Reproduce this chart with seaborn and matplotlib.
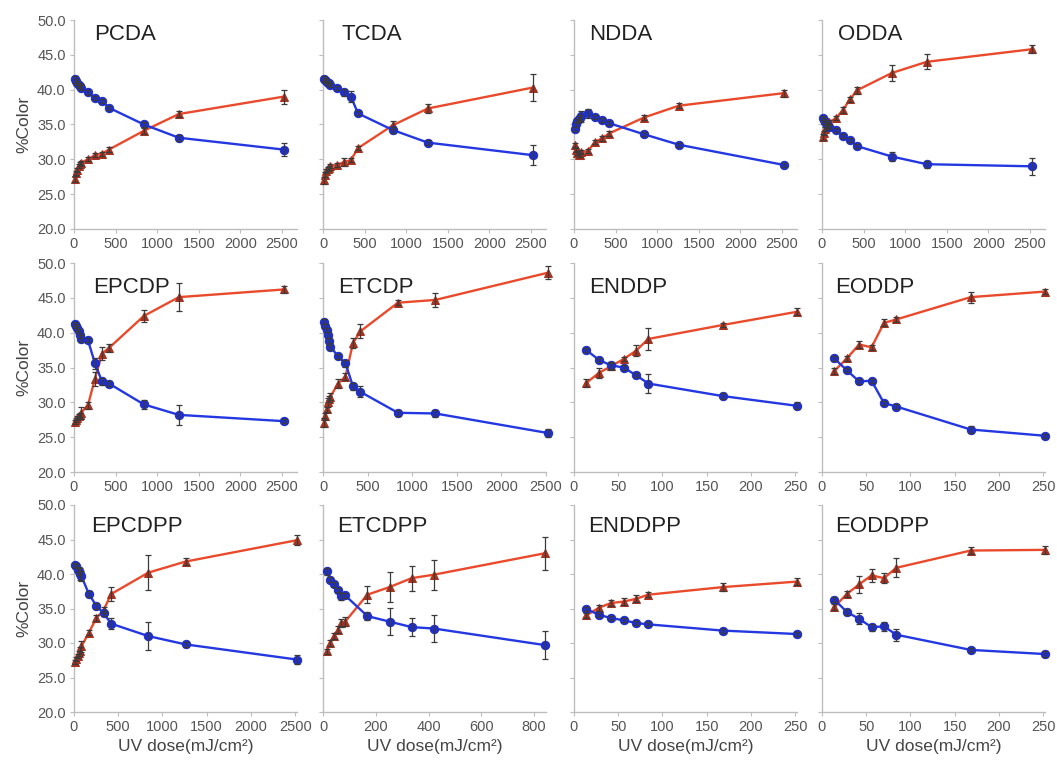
import matplotlib
matplotlib.use("Agg")
import matplotlib.pyplot as plt
import seaborn as sns

# ---------------- data ----------------
DOSE_LONG = [14, 28, 42, 56, 70, 84, 168, 252, 336, 420, 840, 1260, 2520]
DOSE_MID = [14, 28, 42, 56, 70, 84, 168, 252, 336, 420, 840]
DOSE_SHORT = [14, 28, 42, 56, 70, 84, 168, 252]

names = ["PCDA", "TCDA", "NDDA", "ODDA",
         "EPCDP", "ETCDP", "ENDDP", "EODDP",
         "EPCDPP", "ETCDPP", "ENDDPP", "EODDPP"]

pcda_red = [27.2, 28.0, 28.5, 29.0, 29.3, 29.5, 30.0, 30.6, 30.8, 31.4, 34.1, 36.5, 39.0]
pcda_red_err = [0.4, 0.3, 0.3, 0.3, 0.3, 0.3, 0.3, 0.3, 0.3, 0.3, 0.4, 0.4, 1.0]
pcda_blue = [41.5, 41.2, 40.9, 40.7, 40.5, 40.3, 39.6, 38.8, 38.4, 37.4, 35.0, 33.1, 31.4]
pcda_blue_err = [0.5, 0.3, 0.3, 0.3, 0.3, 0.3, 0.3, 0.3, 0.3, 0.3, 0.3, 0.4, 0.9]

tcda_red = [27.0, 27.8, 28.3, 28.6, 28.8, 29.0, 29.2, 29.6, 29.9, 31.6, 34.9, 37.3, 40.3]
tcda_red_err = [0.5, 0.4, 0.3, 0.3, 0.3, 0.3, 0.3, 0.6, 0.3, 0.3, 0.6, 0.6, 1.9]
tcda_blue = [41.6, 41.4, 41.2, 41.0, 40.9, 40.7, 40.2, 39.6, 39.0, 36.6, 34.2, 32.4, 30.6]
tcda_blue_err = [0.4, 0.3, 0.3, 0.3, 0.3, 0.3, 0.3, 0.5, 0.8, 0.3, 0.4, 0.4, 1.4]

ndda_red = [32.0, 31.3, 30.9, 30.6, 30.6, 31.0, 31.2, 32.5, 33.0, 33.7, 36.0, 37.7, 39.5]
ndda_red_err = [0.3, 0.3, 0.3, 0.3, 0.3, 0.3, 0.3, 0.3, 0.3, 0.3, 0.4, 0.4, 0.5]
ndda_blue = [34.4, 35.0, 35.5, 35.8, 36.0, 36.2, 36.6, 36.1, 35.7, 35.2, 33.6, 32.1, 29.2]
ndda_blue_err = [0.3, 0.3, 0.3, 0.3, 0.3, 0.8, 0.6, 0.3, 0.3, 0.3, 0.3, 0.3, 0.3]

odda_red = [33.2, 33.8, 34.3, 34.6, 35.0, 35.3, 35.9, 37.1, 38.6, 39.9, 42.4, 44.0, 45.8]
odda_red_err = [0.4, 0.3, 0.3, 0.3, 0.3, 0.3, 0.3, 0.4, 0.4, 0.5, 1.2, 1.1, 0.6]
odda_blue = [35.9, 35.6, 35.3, 35.0, 34.8, 34.6, 34.2, 33.3, 32.8, 31.9, 30.4, 29.3, 29.0]
odda_blue_err = [0.3, 0.3, 0.3, 0.3, 0.3, 0.3, 0.3, 0.3, 0.3, 0.3, 0.7, 0.5, 1.2]

epcdp_red = [27.2, 27.5, 27.8, 28.0, 28.2, 28.5, 29.6, 33.4, 37.0, 37.8, 42.4, 45.1, 46.2]
epcdp_red_err = [0.3, 0.3, 0.3, 0.3, 0.3, 0.9, 0.5, 1.0, 0.9, 0.6, 0.9, 2.0, 0.5]
epcdp_blue = [41.2, 40.9, 40.6, 40.2, 39.6, 39.1, 38.9, 35.6, 33.0, 32.7, 29.7, 28.2, 27.3]
epcdp_blue_err = [0.3, 0.3, 0.3, 0.3, 0.3, 0.5, 0.3, 0.8, 0.5, 0.4, 0.6, 1.4, 0.3]

etcdp_red = [27.1, 28.0, 29.0, 30.0, 30.5, 30.8, 32.7, 33.7, 38.5, 40.2, 44.3, 44.7, 48.6]
etcdp_red_err = [0.6, 0.5, 0.4, 0.6, 0.4, 0.5, 0.6, 0.5, 0.7, 1.0, 0.4, 1.0, 0.9]
etcdp_blue = [41.6, 41.0, 40.4, 39.7, 38.8, 38.0, 36.6, 35.6, 32.3, 31.5, 28.5, 28.4, 25.6]
etcdp_blue_err = [0.3, 0.3, 0.3, 0.4, 0.5, 0.5, 0.4, 0.5, 0.5, 0.8, 0.4, 0.5, 0.6]

enddp_red = [32.8, 34.2, 35.2, 36.2, 37.4, 39.1, 41.1, 43.0]
enddp_red_err = [0.6, 0.7, 0.5, 0.3, 0.8, 1.6, 0.3, 0.5]
enddp_blue = [37.5, 36.1, 35.3, 35.0, 33.9, 32.7, 30.9, 29.5]
enddp_blue_err = [0.3, 0.3, 0.5, 0.3, 0.3, 1.4, 0.4, 0.5]

eoddp_red = [34.5, 36.3, 38.3, 37.9, 41.4, 41.9, 45.1, 45.9]
eoddp_red_err = [0.5, 0.4, 0.5, 0.4, 0.5, 0.4, 0.8, 0.4]
eoddp_blue = [36.3, 34.6, 33.0, 33.1, 29.9, 29.4, 26.1, 25.2]
eoddp_blue_err = [0.4, 0.3, 0.3, 0.3, 0.3, 0.3, 0.5, 0.3]

epcdpp_red = [27.3, 27.7, 28.1, 28.5, 28.9, 29.5, 31.5, 33.6, 34.8, 37.1, 40.2, 41.8, 44.9]
epcdpp_red_err = [0.3, 0.3, 0.3, 0.4, 0.5, 0.8, 0.4, 0.4, 0.4, 1.0, 2.5, 0.5, 0.7]
epcdpp_blue = [41.3, 41.1, 40.6, 40.4, 40.0, 39.7, 37.1, 35.4, 34.3, 32.8, 31.0, 29.8, 27.6]
epcdpp_blue_err = [0.3, 0.3, 0.3, 0.6, 0.8, 0.7, 0.5, 0.4, 0.4, 0.8, 2.0, 0.4, 0.7]

etcdpp_red = [28.8, 30.0, 31.0, 31.9, 32.9, 33.1, 37.0, 38.1, 39.4, 39.9, 43.0]
etcdpp_red_err = [0.4, 0.4, 0.4, 0.5, 0.6, 0.6, 1.2, 2.2, 1.8, 2.2, 2.4]
etcdpp_blue = [40.4, 39.2, 38.5, 37.7, 36.8, 36.9, 33.9, 33.1, 32.3, 32.1, 29.7]
etcdpp_blue_err = [0.5, 0.3, 0.4, 0.3, 0.5, 0.4, 0.6, 2.0, 1.3, 2.0, 2.0]

enddpp_red = [34.0, 35.1, 35.8, 36.0, 36.4, 37.0, 38.1, 38.9]
enddpp_red_err = [0.4, 0.4, 0.5, 0.5, 0.5, 0.4, 0.6, 0.5]
enddpp_blue = [34.9, 34.1, 33.6, 33.3, 32.9, 32.7, 31.8, 31.3]
enddpp_blue_err = [0.3, 0.3, 0.3, 0.3, 0.3, 0.3, 0.3, 0.3]

eoddpp_red = [35.2, 37.1, 38.5, 39.8, 39.4, 40.9, 43.4, 43.5]
eoddpp_red_err = [0.4, 0.5, 1.2, 0.9, 0.7, 1.4, 0.5, 0.6]
eoddpp_blue = [36.3, 34.5, 33.5, 32.3, 32.4, 31.2, 29.0, 28.4]
eoddpp_blue_err = [0.4, 0.4, 0.8, 0.5, 0.6, 0.9, 0.3, 0.4]

y_ticks = [20, 25, 30, 35, 40, 45, 50]
x_ticks_long = [0, 500, 1000, 1500, 2000, 2500]
x_ticks_mid = [0, 200, 400, 600, 800]
x_ticks_short = [0, 50, 100, 150, 200, 250]

panels = [
    (DOSE_LONG, pcda_red, pcda_red_err, pcda_blue, pcda_blue_err),
    (DOSE_LONG, tcda_red, tcda_red_err, tcda_blue, tcda_blue_err),
    (DOSE_LONG, ndda_red, ndda_red_err, ndda_blue, ndda_blue_err),
    (DOSE_LONG, odda_red, odda_red_err, odda_blue, odda_blue_err),
    (DOSE_LONG, epcdp_red, epcdp_red_err, epcdp_blue, epcdp_blue_err),
    (DOSE_LONG, etcdp_red, etcdp_red_err, etcdp_blue, etcdp_blue_err),
    (DOSE_SHORT, enddp_red, enddp_red_err, enddp_blue, enddp_blue_err),
    (DOSE_SHORT, eoddp_red, eoddp_red_err, eoddp_blue, eoddp_blue_err),
    (DOSE_LONG, epcdpp_red, epcdpp_red_err, epcdpp_blue, epcdpp_blue_err),
    (DOSE_MID, etcdpp_red, etcdpp_red_err, etcdpp_blue, etcdpp_blue_err),
    (DOSE_SHORT, enddpp_red, enddpp_red_err, enddpp_blue, enddpp_blue_err),
    (DOSE_SHORT, eoddpp_red, eoddpp_red_err, eoddpp_blue, eoddpp_blue_err),
]

# ---------------- style / layout ----------------
sns.set_style("white")
plt.rcParams["font.family"] = ["Liberation Sans", "DejaVu Sans"]

W, H = 1057, 763
fig = plt.figure(figsize=(W / 100, H / 100), dpi=100)

col_left = [74, 323, 574, 822]
row_top = [20, 263, 505]
row_bot = [229, 472, 712]
ax_w = 223
xlims = [2680, 2680, 2680, 2680,
         2680, 2500, 252, 252,
         2520, 845, 252, 252]
title_x = [0.09, 0.085, 0.07, 0.07, 0.085, 0.067, 0.07, 0.06, 0.076, 0.065, 0.063, 0.058]
title_y = [0.905, 0.856, 0.87]

RED_LINE = "#ea4a2c"
RED_MK = "#a8321f"
BLUE_LINE = "#2338e0"
BLUE_MK = "#1f2fc8"
AX_COL = "#bdbdbd"

for i, (dose, red, red_err, blue, blue_err) in enumerate(panels):
    r, c = divmod(i, 4)
    ax = fig.add_axes([col_left[c] / W, 1 - row_bot[r] / H,
                       ax_w / W, (row_bot[r] - row_top[r]) / H])
    sns.lineplot(x=dose, y=red, ax=ax, color=RED_LINE, linewidth=1.7,
                 marker="^", markersize=6, markerfacecolor=RED_MK,
                 markeredgecolor=RED_MK, sort=False, zorder=3, clip_on=False)
    sns.lineplot(x=dose, y=blue, ax=ax, color=BLUE_LINE, linewidth=1.7,
                 marker="o", markersize=6, markerfacecolor=BLUE_MK,
                 markeredgecolor=BLUE_MK, sort=False, zorder=3, clip_on=False)
    for vals, errs in ((red, red_err), (blue, blue_err)):
        cont = ax.errorbar(dose, vals, yerr=errs, fmt="none", ecolor="#3a3a3a",
                           elinewidth=0.9, capsize=2.5, capthick=0.9, zorder=4)
        for art in cont.get_children():
            art.set_clip_on(False)

    ax.set_xlim(0, xlims[i])
    ax.set_ylim(20, 50)
    if xlims[i] > 1000:
        ax.set_xticks(x_ticks_long)
    elif xlims[i] > 300:
        ax.set_xticks(x_ticks_mid)
    else:
        ax.set_xticks(x_ticks_short)
    ax.set_yticks(y_ticks)
    if c == 0:
        ax.set_yticklabels([f"{v:.1f}" for v in y_ticks])
        ax.set_ylabel("%Color", fontsize=12.5, color="#444444", labelpad=4)
    else:
        ax.set_yticklabels([])
        ax.set_ylabel("")
    if r == 2:
        ax.set_xlabel("UV dose(mJ/cm²)", fontsize=12.5, color="#444444", labelpad=3)
    else:
        ax.set_xlabel("")

    for s in ["top", "right"]:
        ax.spines[s].set_visible(False)
    for s in ["left", "bottom"]:
        ax.spines[s].set_color(AX_COL)
        ax.spines[s].set_linewidth(1.0)
    ax.tick_params(axis="both", which="both", bottom=True, left=True,
                   direction="out", length=3, width=0.8, color=AX_COL,
                   labelsize=10.5, labelcolor="#555555", pad=3)
    ax.patch.set_alpha(0)
    ax.text(title_x[i], title_y[r], names[i], transform=ax.transAxes,
            fontsize=16, color="#222222", va="baseline", ha="left")

fig.savefig("out.png", dpi=100)
